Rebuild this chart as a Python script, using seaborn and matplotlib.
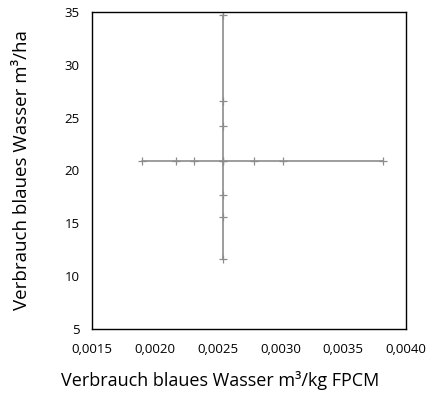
import matplotlib
matplotlib.use("Agg")
import matplotlib.pyplot as plt
import matplotlib.ticker as mticker
import pandas as pd
import seaborn as sns

# horizontal series: x varies, y fixed
h_x = [0.001896, 0.002166, 0.00231, 0.002545, 0.002792, 0.00302, 0.003815]
h_y = [20.9, 20.9, 20.9, 20.9, 20.9, 20.9, 20.9]

# vertical series: x fixed, y varies
v_x = [0.002545, 0.002545, 0.002545, 0.002545, 0.002545, 0.002545, 0.002545]
v_y = [34.7, 26.6, 24.2, 20.9, 17.7, 15.6, 11.6]

x_ticks = [0.0015, 0.0020, 0.0025, 0.0030, 0.0035, 0.0040]
y_ticks = [5, 10, 15, 20, 25, 30, 35]

sns.set_theme(style="white")
plt.rcParams['font.family'] = ['Open Sans', 'DejaVu Sans']

fig = plt.figure(figsize=(4.35, 3.98), dpi=100)
ax = fig.add_axes([0.2115, 0.1734, 0.7215, 0.7966])

df_h = pd.DataFrame({'x': h_x, 'y': h_y})
df_v = pd.DataFrame({'x': v_x, 'y': v_y})
for d in (df_h, df_v):
    sns.lineplot(data=d, x='x', y='y', sort=False, estimator=None, ax=ax,
                 color='#8c8c8c', linewidth=1.2, marker='+', markersize=6,
                 markeredgewidth=0.9, markeredgecolor='#8c8c8c')

ax.set_xlim(0.0015, 0.0040)
ax.set_ylim(5, 35)
ax.set_xticks(x_ticks)
ax.set_yticks(y_ticks)
ax.xaxis.set_major_formatter(mticker.FuncFormatter(lambda v, p: f"{v:.4f}".replace('.', ',')))
ax.tick_params(axis='x', length=0, labelsize=9.5, colors='black', pad=10)
ax.tick_params(axis='y', length=0, labelsize=9.5, colors='black', pad=9)

for s in ax.spines.values():
    s.set_color('black')
    s.set_linewidth(1.0)

ax.set_xlabel("Verbrauch blaues Wasser m³/kg FPCM", fontsize=13, labelpad=11,
              color='black', x=0.409)
ax.set_ylabel("Verbrauch blaues Wasser m³/ha", fontsize=13.5, labelpad=24, color='black')

fig.savefig("out.png", dpi=100)
